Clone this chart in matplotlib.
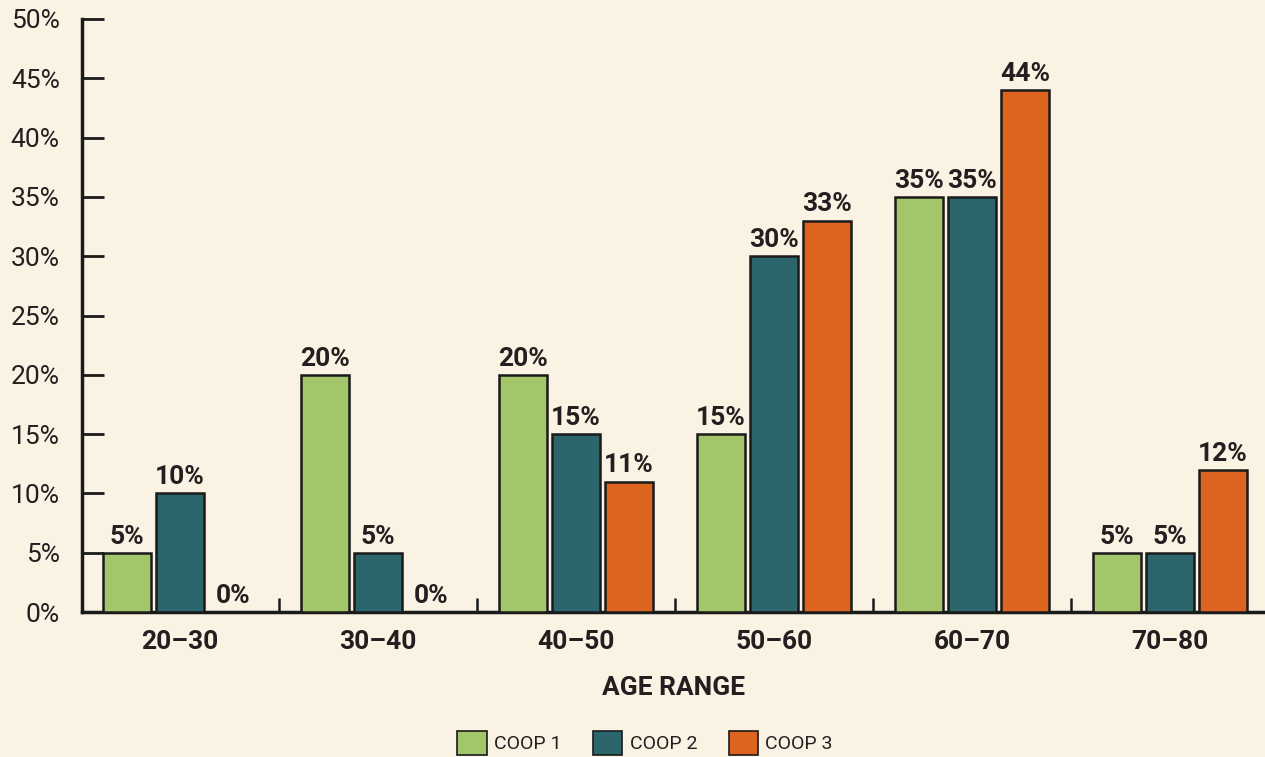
import matplotlib
matplotlib.use("Agg")
import matplotlib.pyplot as plt
import numpy as np
from matplotlib.patches import Patch

categories = ["20–30", "30–40", "40–50", "50–60", "60–70", "70–80"]
coop1 = [5, 20, 20, 15, 35, 5]
coop2 = [10, 5, 15, 30, 35, 5]
coop3 = [0, 0, 11, 33, 44, 12]
series_names = ["COOP 1", "COOP 2", "COOP 3"]
colors = ["#A3C66A", "#2C656C", "#DC641E"]
yticks = [0, 5, 10, 15, 20, 25, 30, 35, 40, 45, 50]

plt.rcParams['font.family'] = ['Roboto', 'DejaVu Sans']
bg = "#FAF2E3"
txt = "#231F20"

fig = plt.figure(figsize=(12.65, 7.57), dpi=100, facecolor=bg)
ax = fig.add_axes([82/1265, (757-612)/757, (1265-82)/1265, (612-19)/757])
ax.set_facecolor(bg)

x = np.arange(len(categories))
w = 0.242
off = 0.267
for i, (vals, c) in enumerate(zip([coop1, coop2, coop3], colors)):
    bars = ax.bar(x + (i-1)*off, vals, width=w, color=c, edgecolor="#1a1a1a",
                  linewidth=1.8, zorder=3)
    ax.bar_label(bars, labels=[f"{v}%" for v in vals], padding=3,
                 fontsize=19, fontweight="bold", color=txt)

ax.set_xlim(-0.495, 5.48)
ax.set_ylim(0, 50)
ax.set_yticks(yticks)
ax.set_yticklabels([f"{v}%" for v in yticks], fontsize=19, color=txt)
ax.tick_params(axis="y", direction="in", length=16, width=2, pad=16, colors="#1a1a1a", labelcolor=txt)
ax.set_xticks(x)
ax.set_xticklabels(categories, fontsize=19, fontweight="bold", color=txt)
ax.tick_params(axis="x", which="major", length=0, pad=13)
ax.set_xticks(np.arange(len(categories)-1) + 0.5, minor=True)
ax.tick_params(axis="x", which="minor", direction="in", length=10, width=1.8, color="#1a1a1a")

for s in ["top", "right"]:
    ax.spines[s].set_visible(False)
for s in ["left", "bottom"]:
    ax.spines[s].set_linewidth(2.5)
    ax.spines[s].set_color("#1a1a1a")

ax.set_xlabel("AGE RANGE", fontsize=19, fontweight="bold", color=txt, labelpad=16)

handles = [Patch(facecolor=c, edgecolor="#1a1a1a", linewidth=1.2) for c in colors]
fig.legend(handles, series_names, loc="lower center", bbox_to_anchor=(0.51, -0.02),
           ncol=3, frameon=False, fontsize=14, handlelength=1.5, handleheight=1.5,
           columnspacing=1.6, handletextpad=0.4, labelcolor=txt)

fig.savefig("out.png", dpi=100, facecolor=bg)
